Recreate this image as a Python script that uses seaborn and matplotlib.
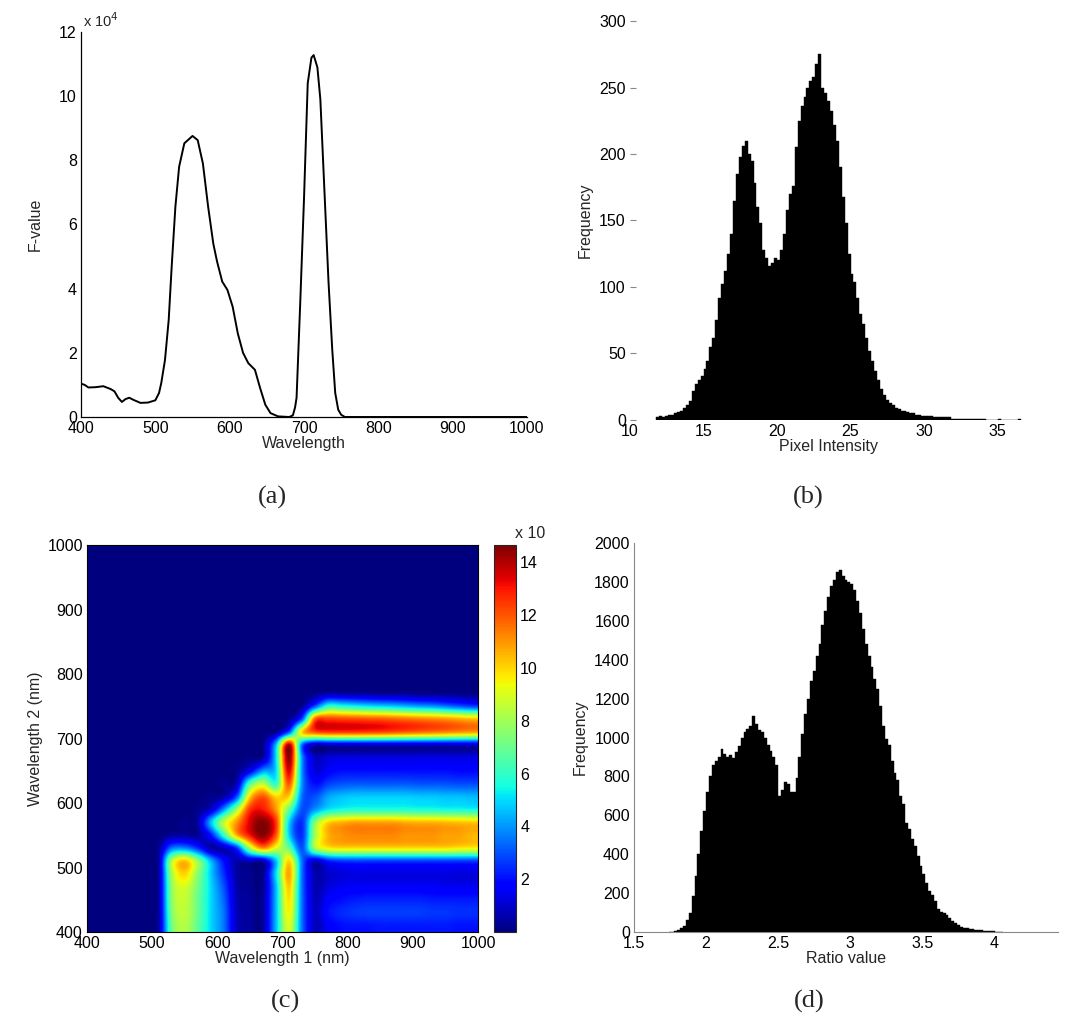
import matplotlib
matplotlib.use("Agg")
import matplotlib.pyplot as plt
import numpy as np
import pandas as pd
import seaborn as sns

# (a) F-value spectrum, values in units of 1e4
wavelength = [400, 405, 410, 420, 430, 440, 445, 450, 455, 460, 465, 470, 480, 490,
              500, 505, 508, 513, 518, 522, 527, 532, 539, 550, 557, 564, 571, 578,
              583, 590, 597, 604, 611, 618, 625, 634, 641, 648, 655, 665, 680, 685,
              688, 690, 695, 700, 705, 710, 713, 718, 722, 727, 733, 738, 742, 746,
              750, 755, 1000]
f_value = [1.04, 1.0, 0.92, 0.93, 0.96, 0.87, 0.8, 0.6, 0.47, 0.56, 0.6, 0.54, 0.44, 0.45,
           0.52, 0.75, 1.06, 1.78, 3.03, 4.69, 6.56, 7.8, 8.53, 8.76, 8.63, 7.9, 6.56, 5.4,
           4.85, 4.22, 3.96, 3.44, 2.6, 2.0, 1.68, 1.47, 0.9, 0.38, 0.12, 0.02, 0.0, 0.05,
           0.3, 0.6, 3.6, 6.8, 10.4, 11.2, 11.28, 10.9, 9.9, 7.3, 4.2, 2.1, 0.75, 0.23,
           0.07, 0.0, 0.0]

# (b) pixel intensity histogram, bins of 0.2 starting at 11.8
intensity_start = 11.8
intensity_width = 0.2
intensity_counts = [
    2, 3, 2, 3, 4,  4, 5, 6, 7, 9,  11, 14, 22, 27, 30,  33, 38, 44, 55, 62,
    75, 92, 102, 112, 125,  140, 165, 185, 198, 206,  210, 200, 195, 178, 160,
    148, 128, 122, 116, 118,  122, 120, 128, 140, 158,  170, 176, 205, 225, 236,
    243, 250, 255, 258, 268,  275, 250, 246, 240, 232,  222, 210, 190, 168, 148,
    125, 110, 104, 92, 80,  72, 62, 52, 44, 37,  30, 23, 19, 15, 13,
    11, 9, 8, 7, 7,  6, 5, 5, 4, 4,  3, 3, 3, 3, 2,  2, 2, 2, 2, 2,
    1, 1, 1, 1, 1,  1, 0.5, 1, 0.5, 0.5,  0.5, 0.5, 0, 0, 0,  0, 0.5, 0, 0, 0,
    0, 0, 0, 0.5,
]

# (d) ratio histogram, bins of 0.02 starting at 1.74
ratio_start = 1.74
ratio_width = 0.02
ratio_counts = [
    0, 2, 5, 12, 20,  30, 60, 100, 185, 290,  400, 520, 620, 720, 800,
    860, 880, 900, 940, 915,  900, 910, 895, 925, 955,  1000, 1030, 1045, 1060, 1110,
    1070, 1040, 1030, 1000, 960,  930, 900, 860, 700, 730,  770, 760, 720, 720, 790,
    900, 1020, 1120, 1200, 1290,  1340, 1420, 1480, 1580, 1650,  1720, 1780, 1810, 1850, 1860,
    1830, 1810, 1800, 1790, 1760,  1700, 1640, 1560, 1480, 1420,  1360, 1300, 1250, 1160, 1060,
    990, 960, 880, 820, 780,  700, 660, 560, 530, 480,  440, 390, 340, 300, 250,
    210, 190, 160, 120, 105,  100, 85, 70, 55, 45,  35, 28, 22, 18, 15,
    13, 12, 10, 8, 7,  5, 4, 3, 2, 1,  1,
]

# (c) map over wavelength pairs, 20 nm cells (cell centres 410..990), values x10
w1_centers = list(range(410, 1000, 20))
w2_centers = list(range(410, 1000, 20))
heat_rows = [
    # w2 = 410
    [0, 0, 0, 0, 0, 0.5, 7.0, 8.3, 6.8, 5.0, 3.5, 0.8, 0.4, 0.4, 4.5, 9.0, 3.5, 0.8, 1.6, 2.0, 2.1, 2.1, 2.2, 2.2, 2.2, 2.2, 2.2, 2.2, 2.1, 2.1],
    # w2 = 430
    [0, 0, 0, 0, 0, 0.5, 7.3, 8.5, 7.0, 5.0, 3.5, 0.8, 0.4, 0.4, 4.5, 9.5, 3.5, 0.9, 2.0, 2.4, 2.6, 2.7, 2.7, 2.7, 2.7, 2.7, 2.6, 2.6, 2.5, 2.5],
    # w2 = 450
    [0, 0, 0, 0, 0, 0.5, 7.5, 8.6, 7.0, 5.0, 3.3, 0.7, 0.4, 0.4, 4.5, 9.8, 3.5, 0.8, 1.7, 2.0, 2.2, 2.3, 2.3, 2.3, 2.3, 2.3, 2.2, 2.2, 2.2, 2.2],
    # w2 = 470
    [0, 0, 0, 0, 0, 0.5, 7.6, 8.9, 7.2, 5.0, 3.0, 0.6, 0.3, 0.3, 4.5, 10.2, 3.5, 0.7, 1.2, 1.5, 1.6, 1.6, 1.6, 1.6, 1.6, 1.6, 1.6, 1.5, 1.5, 1.5],
    # w2 = 490
    [0, 0, 0, 0, 0, 0.5, 8.0, 10.0, 7.6, 4.8, 2.5, 0.5, 0.3, 0.3, 5.0, 10.8, 3.5, 0.7, 1.0, 1.2, 1.3, 1.3, 1.3, 1.3, 1.3, 1.3, 1.3, 1.3, 1.2, 1.2],
    # w2 = 510
    [0, 0, 0, 0, 0, 0.5, 8.2, 10.3, 7.8, 4.5, 2.0, 0.6, 0.8, 0.8, 4.5, 10.0, 3.5, 1.0, 2.2, 2.6, 2.7, 2.7, 2.7, 2.7, 2.7, 2.7, 2.7, 2.7, 2.7, 2.7],
    # w2 = 530
    [0, 0, 0, 0, 0, 0.3, 3.5, 3.8, 2.5, 0.6, 0.8, 2.5, 8.0, 11.0, 9.0, 7.0, 3.0, 8.0, 9.5, 9.8, 9.8, 9.8, 9.8, 9.8, 9.8, 9.8, 9.8, 9.8, 9.6, 9.5],
    # w2 = 550
    [0, 0, 0, 0, 0, 0, 0.4, 0.5, 0.4, 2.0, 6.0, 10.5, 13.0, 14.5, 12.0, 5.0, 2.5, 8.0, 10.5, 11.0, 11.2, 11.2, 11.2, 11.2, 11.0, 11.0, 11.0, 10.8, 10.8, 10.5],
    # w2 = 570
    [0, 0, 0, 0, 0, 0, 0, 0.2, 0.5, 4.5, 8.5, 11.0, 13.5, 14.6, 12.5, 5.0, 2.5, 7.5, 10.0, 10.5, 10.8, 10.8, 10.8, 10.8, 10.6, 10.5, 10.5, 10.4, 10.3, 10.2],
    # w2 = 590
    [0, 0, 0, 0, 0, 0, 0, 0, 0.2, 1.0, 4.0, 8.0, 12.5, 13.0, 11.0, 7.0, 3.0, 4.0, 5.2, 5.6, 5.8, 5.8, 5.8, 5.8, 5.8, 5.7, 5.7, 5.6, 5.6, 5.5],
    # w2 = 610
    [0, 0, 0, 0, 0, 0, 0, 0, 0, 0.2, 0.5, 3.0, 10.0, 12.0, 10.0, 10.0, 3.5, 3.0, 4.2, 4.6, 4.8, 4.8, 4.8, 4.8, 4.8, 4.7, 4.7, 4.6, 4.6, 4.5],
    # w2 = 630
    [0, 0, 0, 0, 0, 0, 0, 0, 0, 0, 0.2, 0.8, 6.5, 8.5, 6.0, 12.0, 4.0, 2.0, 2.7, 3.0, 3.1, 3.1, 3.1, 3.1, 3.1, 3.0, 3.0, 3.0, 2.9, 2.9],
    # w2 = 650
    [0, 0, 0, 0, 0, 0, 0, 0, 0, 0, 0, 0.2, 1.5, 4.0, 5.0, 13.5, 4.0, 1.2, 1.7, 2.0, 2.0, 2.0, 2.0, 2.0, 2.0, 2.0, 2.0, 2.0, 1.9, 1.9],
    # w2 = 670
    [0, 0, 0, 0, 0, 0, 0, 0, 0, 0, 0, 0, 0.2, 0.5, 5.0, 14.5, 4.0, 1.0, 1.2, 1.3, 1.3, 1.3, 1.3, 1.3, 1.3, 1.3, 1.3, 1.3, 1.3, 1.3],
    # w2 = 690
    [0, 0, 0, 0, 0, 0, 0, 0, 0, 0, 0, 0, 0, 0.2, 4.5, 14.0, 3.5, 0.8, 0.9, 1.0, 1.0, 1.0, 1.0, 1.0, 1.0, 1.0, 1.0, 1.0, 1.0, 1.0],
    # w2 = 710
    [0, 0, 0, 0, 0, 0, 0, 0, 0, 0, 0, 0, 0, 0, 0.3, 3.0, 10.0, 12.0, 12.4, 12.4, 12.4, 12.3, 12.2, 12.0, 11.8, 11.6, 11.4, 11.2, 11.0, 10.8],
    # w2 = 730
    [0, 0, 0, 0, 0, 0, 0, 0, 0, 0, 0, 0, 0, 0, 0, 0.3, 3.0, 11.8, 12.4, 12.3, 12.2, 12.1, 12.0, 11.8, 11.6, 11.4, 11.2, 11.0, 10.7, 10.4],
    # w2 = 750
    [0, 0, 0, 0, 0, 0, 0, 0, 0, 0, 0, 0, 0, 0, 0, 0, 0.3, 3.0, 6.0, 5.8, 5.5, 5.2, 5.0, 4.8, 4.5, 4.2, 4.0, 3.6, 3.2, 2.8],
    # w2 = 770
    [0, 0, 0, 0, 0, 0, 0, 0, 0, 0, 0, 0, 0, 0, 0, 0, 0, 0.2, 0.5, 0.5, 0.4, 0.4, 0.3, 0.3, 0.3, 0.2, 0.2, 0.2, 0.2, 0.1],
]

sns.set_theme(style="white")
plt.rcParams["font.family"] = ["Liberation Sans", "DejaVu Sans"]
plt.rcParams["xtick.direction"] = "in"
plt.rcParams["ytick.direction"] = "in"
plt.rcParams["xtick.major.size"] = 4
plt.rcParams["ytick.major.size"] = 4
plt.rcParams["xtick.major.width"] = 0.8
plt.rcParams["ytick.major.width"] = 0.8
plt.rcParams["xtick.major.pad"] = 3
plt.rcParams["ytick.major.pad"] = 3

W, H = 1088, 1016
fig = plt.figure(figsize=(W / 100, H / 100), dpi=100)


def box(x0, y0, x1, y1):
    return [x0 / W, 1 - y1 / H, (x1 - x0) / W, (y1 - y0) / H]


tick_fs = 11.5
cap_font = dict(family=["Liberation Serif", "DejaVu Serif"], fontsize=19)

# ---- (a) line plot
ax_a = fig.add_axes(box(81, 32, 527, 417))
sns.lineplot(x=wavelength, y=f_value, color="black", linewidth=1.4, ax=ax_a)
ax_a.set_xlim(400, 1000)
ax_a.set_ylim(0, 12)
ax_a.set_xticks(range(400, 1001, 100))
ax_a.set_yticks(range(0, 13, 2))
ax_a.set_xlabel("Wavelength", fontsize=tick_fs, labelpad=0)
ax_a.set_ylabel("F-value", fontsize=tick_fs, labelpad=12)
for s in ["top", "right"]:
    ax_a.spines[s].set_visible(False)
for s in ["left", "bottom"]:
    ax_a.spines[s].set_color("black")
    ax_a.spines[s].set_linewidth(0.9)
ax_a.tick_params(labelsize=tick_fs, colors="black")
fig.text(83 / W, 1 - 21 / H, r"x 10$^4$", fontsize=10.5, va="center")

# ---- (b) pixel intensity histogram
ax_b = fig.add_axes(box(630, 21, 1027, 420))
int_edges = intensity_start + intensity_width * np.arange(len(intensity_counts) + 1)
df_int = pd.DataFrame({"x": int_edges[:-1] + intensity_width / 2, "w": intensity_counts})
sns.histplot(data=df_int, x="x", weights="w", bins=list(int_edges), color="black",
             edgecolor="black", linewidth=0.3, alpha=1, ax=ax_b)
ax_b.set_xlim(10, 37)
ax_b.set_ylim(0, 300)
ax_b.set_xticks(range(10, 36, 5))
ax_b.set_yticks(range(0, 301, 50))
ax_b.set_xlabel("Pixel Intensity", fontsize=tick_fs, labelpad=0)
ax_b.set_ylabel("Frequency", fontsize=tick_fs, labelpad=5)
for s in ax_b.spines.values():
    s.set_visible(False)
ax_b.tick_params(labelsize=tick_fs, left=True, bottom=False, color="#888888", labelcolor="black")

# ---- (c) wavelength-pair map
ax_c = fig.add_axes(box(87, 545, 478, 932))
heat = np.zeros((len(w2_centers), len(w1_centers)))
heat[:len(heat_rows), :] = np.array(heat_rows)
im = ax_c.imshow(heat, origin="lower", extent=(400, 1000, 400, 1000), cmap="jet",
                 vmin=0, vmax=14.65, interpolation="catrom", aspect="auto")
ax_c.set_xlim(400, 1000)
ax_c.set_ylim(400, 1000)
ax_c.set_xticks(range(400, 1001, 100))
ax_c.set_yticks(range(400, 1001, 100))
ax_c.set_xlabel("Wavelength 1 (nm)", fontsize=tick_fs, labelpad=0)
ax_c.set_ylabel("Wavelength 2 (nm)", fontsize=tick_fs, labelpad=3)
ax_c.tick_params(labelsize=tick_fs, colors="black", length=3)
for s in ax_c.spines.values():
    s.set_color("black")
    s.set_linewidth(0.8)

cax = fig.add_axes(box(494, 545, 516, 932))
cb = fig.colorbar(im, cax=cax, ticks=range(2, 15, 2))
cb.outline.set_linewidth(0.8)
cax.tick_params(labelsize=tick_fs, length=3, direction="in", colors="black")
fig.text(545 / W, 1 - 534 / H, "x 10", fontsize=tick_fs, ha="right", va="center")

# ---- (d) ratio histogram
ax_d = fig.add_axes(box(634, 543, 1058, 932))
rat_edges = ratio_start + ratio_width * np.arange(len(ratio_counts) + 1)
df_rat = pd.DataFrame({"x": rat_edges[:-1] + ratio_width / 2, "w": ratio_counts})
sns.histplot(data=df_rat, x="x", weights="w", bins=list(rat_edges), color="black",
             edgecolor="black", linewidth=0.3, alpha=1, ax=ax_d)
ax_d.set_xlim(1.5, 4.44)
ax_d.set_ylim(0, 2000)
ax_d.set_xticks([1.5, 2, 2.5, 3, 3.5, 4])
ax_d.set_xticklabels(["1.5", "2", "2.5", "3", "3.5", "4"])
ax_d.set_yticks(range(0, 2001, 200))
ax_d.set_xlabel("Ratio value", fontsize=tick_fs, labelpad=0)
ax_d.set_ylabel("Frequency", fontsize=tick_fs, labelpad=5)
for s in ["top", "right"]:
    ax_d.spines[s].set_visible(False)
for s in ["left", "bottom"]:
    ax_d.spines[s].set_color("#888888")
    ax_d.spines[s].set_linewidth(0.8)
ax_d.tick_params(labelsize=tick_fs, color="#888888", labelcolor="black")

# ---- panel captions
fig.text(272 / W, 1 - 497 / H, "(a)", ha="center", va="center", **cap_font)
fig.text(808 / W, 1 - 497 / H, "(b)", ha="center", va="center", **cap_font)
fig.text(285 / W, 1 - 1001 / H, "(c)", ha="center", va="center", **cap_font)
fig.text(809 / W, 1 - 1001 / H, "(d)", ha="center", va="center", **cap_font)

fig.savefig("out.png", dpi=100, facecolor="white")
